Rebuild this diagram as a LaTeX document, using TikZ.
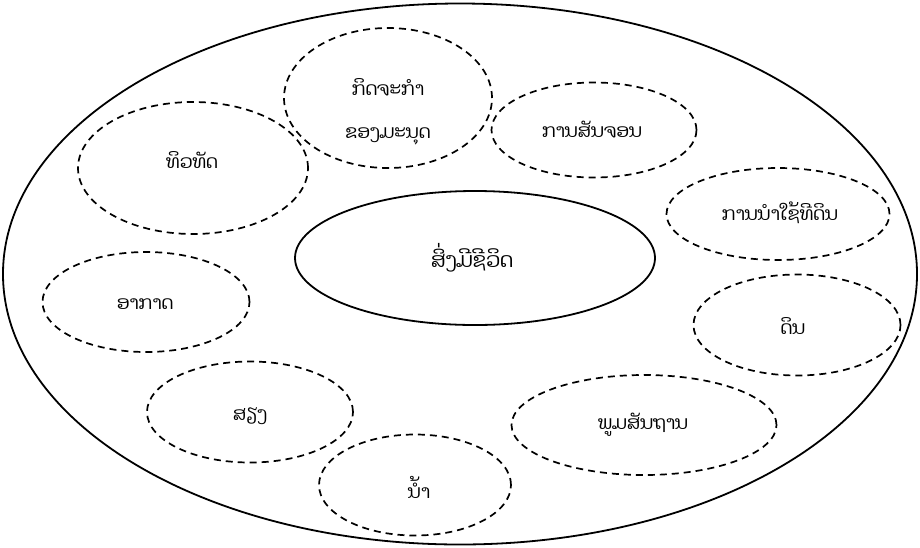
\documentclass[tikz,border=0pt]{standalone}
\usepackage{fontspec}
\newfontfamily\laofont[Script=Lao]{Dhyana}
\usetikzlibrary{shapes.geometric}
\begin{document}
\begin{tikzpicture}[x=1pt,y=-1pt,
  outerell/.style={ellipse,draw,line width=1.8pt,inner sep=0pt},
  dashell/.style={ellipse,draw,dashed,dash pattern=on 7pt off 5pt,line width=1.7pt,inner sep=0pt},
  lbl/.style={font=\laofont\fontsize{18.5}{20}\selectfont,inner sep=0pt},
  biglbl/.style={font=\laofont\fontsize{20.5}{22}\selectfont,inner sep=0pt}]
\useasboundingbox (0,0) rectangle (920,547);
\node[outerell,minimum width=914pt,minimum height=541pt] (outer) at (460,274) {};
\node[outerell,minimum width=360pt,minimum height=134pt] (centre) at (475,258) {};
\node[biglbl] (tcentre) at (472,258) {ສິ່ງມີຊີວິດ};
\node[dashell,minimum width=208pt,minimum height=140pt] (act) at (388,98) {};
\node[lbl] (tact1) at (388,87) {ກິດຈະກຳ};
\node[lbl] (tact2) at (388,136) {ຂອງມະນຸດ};
\node[dashell,minimum width=205pt,minimum height=95pt] (traf) at (594,130) {};
\node[lbl] (ttraf) at (592,130) {ການສັນຈອນ};
\node[dashell,minimum width=223pt,minimum height=92pt] (land) at (778,214) {};
\node[lbl] (tland) at (780,213) {ການນຳໃຊ້ທີດິນ};
\node[dashell,minimum width=230pt,minimum height=132pt] (view) at (193,168) {};
\node[lbl] (tview) at (192,160) {ທິວທັດ};
\node[dashell,minimum width=207pt,minimum height=100pt] (air) at (146,302) {};
\node[lbl] (tair) at (145,304) {ອາກາດ};
\node[dashell,minimum width=206pt,minimum height=101pt] (sound) at (250,412) {};
\node[lbl] (tsound) at (250,416) {ສຽງ};
\node[dashell,minimum width=192pt,minimum height=101pt] (water) at (415,485) {};
\node[lbl] (twater) at (419,487) {ນ້ຳ};
\node[dashell,minimum width=265pt,minimum height=100pt] (topo) at (644,425) {};
\node[lbl] (ttopo) at (643,425) {ພູມສັນຖານ};
\node[dashell,minimum width=207pt,minimum height=101pt] (soil) at (797,325) {};
\node[lbl] (tsoil) at (793,326) {ດິນ};
\end{tikzpicture}
\end{document}
